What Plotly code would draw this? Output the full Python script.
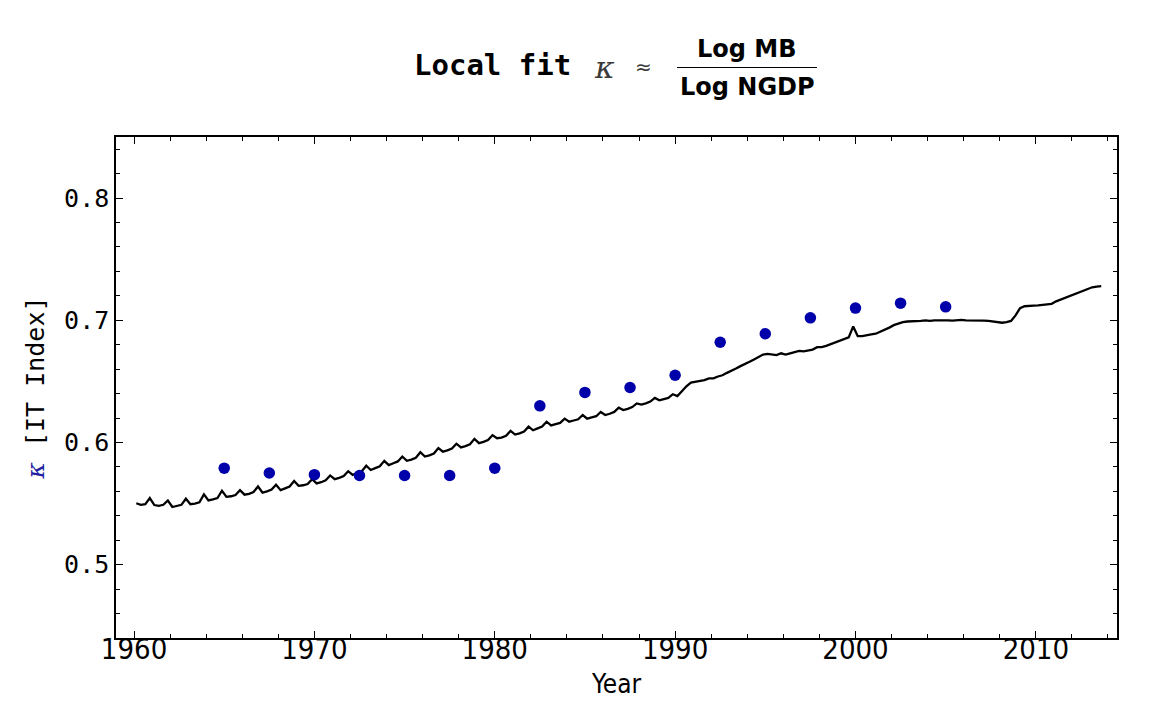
import plotly.graph_objects as go

# ---------------- data ----------------
# quarterly local-fit kappa (Q1..Q4 each year), 1960 Q1 .. 2013 Q3
kappa_line = [
    0.5503, 0.5490, 0.5495, 0.5545,   # 1960
    0.5488, 0.5482, 0.5490, 0.5525,   # 1961
    0.5472, 0.5482, 0.5490, 0.5540,   # 1962
    0.5495, 0.5500, 0.5510, 0.5575,   # 1963
    0.5526, 0.5535, 0.5545, 0.5605,   # 1964
    0.5555, 0.5560, 0.5570, 0.5610,   # 1965
    0.5573, 0.5580, 0.5595, 0.5640,   # 1966
    0.5590, 0.5600, 0.5615, 0.5655,   # 1967
    0.5610, 0.5625, 0.5640, 0.5685,   # 1968
    0.5645, 0.5650, 0.5660, 0.5700,   # 1969
    0.5665, 0.5675, 0.5690, 0.5730,   # 1970
    0.5700, 0.5710, 0.5725, 0.5765,   # 1971
    0.5735, 0.5750, 0.5765, 0.5810,   # 1972
    0.5775, 0.5790, 0.5805, 0.5850,   # 1973
    0.5815, 0.5830, 0.5845, 0.5885,   # 1974
    0.5850, 0.5860, 0.5875, 0.5920,   # 1975
    0.5885, 0.5895, 0.5910, 0.5955,   # 1976
    0.5925, 0.5935, 0.5950, 0.5990,   # 1977
    0.5960, 0.5970, 0.5985, 0.6030,   # 1978
    0.5995, 0.6005, 0.6020, 0.6060,   # 1979
    0.6035, 0.6040, 0.6055, 0.6095,   # 1980
    0.6065, 0.6075, 0.6090, 0.6130,   # 1981
    0.6100, 0.6115, 0.6130, 0.6170,   # 1982
    0.6140, 0.6150, 0.6160, 0.6195,   # 1983
    0.6170, 0.6180, 0.6190, 0.6225,   # 1984
    0.6195, 0.6205, 0.6215, 0.6250,   # 1985
    0.6225, 0.6235, 0.6250, 0.6285,   # 1986
    0.6265, 0.6275, 0.6290, 0.6320,   # 1987
    0.6310, 0.6320, 0.6335, 0.6365,   # 1988
    0.6345, 0.6355, 0.6365, 0.6395,   # 1989
    0.6380, 0.6420, 0.6460, 0.6490,   # 1990
    0.6495, 0.6500, 0.6510, 0.6525,   # 1991
    0.6525, 0.6540, 0.6550, 0.6570,   # 1992
    0.6585, 0.6605, 0.6625, 0.6640,   # 1993
    0.6660, 0.6680, 0.6700, 0.6720,   # 1994
    0.6725, 0.6720, 0.6715, 0.6730,   # 1995
    0.6720, 0.6730, 0.6740, 0.6750,   # 1996
    0.6745, 0.6750, 0.6760, 0.6780,   # 1997
    0.6780, 0.6790, 0.6805, 0.6820,   # 1998
    0.6830, 0.6845, 0.6860, 0.6950,   # 1999
    0.6870, 0.6870, 0.6880, 0.6885,   # 2000
    0.6890, 0.6905, 0.6920, 0.6940,   # 2001
    0.6960, 0.6975, 0.6985, 0.6990,   # 2002
    0.6990, 0.6995, 0.6995, 0.7000,   # 2003
    0.6995, 0.7000, 0.7000, 0.7005,   # 2004
    0.7000, 0.6998, 0.7002, 0.7003,   # 2005
    0.7000, 0.7000, 0.7003, 0.7000,   # 2006
    0.6998, 0.6995, 0.6990, 0.6985,   # 2007
    0.6980, 0.6985, 0.6995, 0.7040,   # 2008
    0.7100, 0.7115, 0.7120, 0.7120,   # 2009
    0.7122, 0.7125, 0.7128, 0.7135,   # 2010
    0.7155, 0.7170, 0.7185, 0.7200,   # 2011
    0.7215, 0.7230, 0.7245, 0.7260,   # 2012
    0.7270, 0.7275, 0.7280,           # 2013
]
line_start_year = 1960
# mid-quarter dates
line_years = [line_start_year + 0.125 + 0.25 * i for i in range(len(kappa_line))]

fit_years = [1965, 1967.5, 1970, 1972.5, 1975, 1977.5, 1980, 1982.5, 1985,
             1987.5, 1990, 1992.5, 1995, 1997.5, 2000, 2002.5, 2005]
fit_kappa = [0.579, 0.575, 0.5737, 0.573, 0.573, 0.573, 0.579, 0.630, 0.641,
             0.645, 0.655, 0.682, 0.689, 0.702, 0.710, 0.714, 0.711]

x_range = [1959.0, 2014.5]
y_range = [0.440, 0.850]

# ---------------- figure ----------------
fig = go.Figure()
fig.add_trace(go.Scatter(
    x=line_years, y=kappa_line, mode="lines",
    line=dict(color="black", width=2.3), hoverinfo="x+y", showlegend=False))
fig.add_trace(go.Scatter(
    x=fit_years, y=fit_kappa, mode="markers",
    marker=dict(color="#0000AA", size=11.5, line=dict(width=0)),
    showlegend=False))

# page body has an 8px margin; the figure is sized so the plot box lands
# at x 116..1117, y 137..638 in the window
OFF = 8
W, H = 1144, 719
L, T = 116 - OFF, 137 - OFF
R = W - (1117 - OFF)
B = H - (638 - OFF)
pw, ph = W - L - R, H - T - B

def px(xp):
    return (xp - OFF - L) / pw

def py(yp):
    return (H - B - (yp - OFF)) / ph

mono = "DejaVu Sans Mono"
sans = "DejaVu Sans"
narrow = "Liberation Sans Narrow, DejaVu Sans Condensed, sans-serif"

annotations = [
    dict(text="<b>Local fit</b>", x=px(492), y=py(65), font=dict(family=mono, size=29, color="black")),
    dict(text="<i>κ</i>", x=px(604), y=py(67), font=dict(family="DejaVu Serif", size=30, color="#3a3a3a")),
    dict(text="≈", x=px(643), y=py(67), font=dict(family=sans, size=20, color="#3a3a3a")),
    dict(text="<b>Log MB</b>", x=px(747), y=py(49), font=dict(family=sans, size=24, color="black")),
    dict(text="<b>Log NGDP</b>", x=px(747), y=py(87.5), font=dict(family=sans, size=24, color="black")),
]
for a in annotations:
    a.update(xref="paper", yref="paper", showarrow=False, xanchor="center", yanchor="middle")

fig.update_layout(
    width=W, height=H,
    margin=dict(l=L, r=R, t=T, b=B, autoexpand=False),
    paper_bgcolor="white", plot_bgcolor="white",
    annotations=annotations,
    shapes=[dict(type="line", xref="paper", yref="paper",
                 x0=px(677), x1=px(817), y0=py(67.5), y1=py(67.5),
                 line=dict(color="black", width=1.2))],
)

fig.update_xaxes(
    range=x_range, tick0=1960, dtick=10, ticks="inside", ticklen=7, tickwidth=1,
    tickcolor="black", showline=True, linecolor="black", linewidth=1.5, mirror="allticks",
    showgrid=False, zeroline=False,
    tickfont=dict(family=narrow, size=29, color="black"),
    ticklabelstandoff=-16,
    minor=dict(dtick=2, ticks="inside", ticklen=4, tickcolor="black", showgrid=False),
    title=dict(text="Year", font=dict(family=narrow, size=26, color="black"), standoff=10),
    automargin=False,
)
fig.update_yaxes(
    range=y_range, tick0=0.5, dtick=0.1, ticks="inside", ticklen=7, tickwidth=1,
    tickcolor="black", showline=True, linecolor="black", linewidth=1.5, mirror="allticks",
    showgrid=False, zeroline=False,
    tickfont=dict(family=mono, size=25, color="black"),
    minor=dict(dtick=0.02, ticks="inside", ticklen=4, tickcolor="black", showgrid=False),
    title=dict(text="<span style='color:#2020a0;font-family:DejaVu Serif'><i>κ</i></span> [IT Index]",
               font=dict(family=mono, size=25, color="black"), standoff=12),
    automargin=False,
)

fig.write_html("out.html")
